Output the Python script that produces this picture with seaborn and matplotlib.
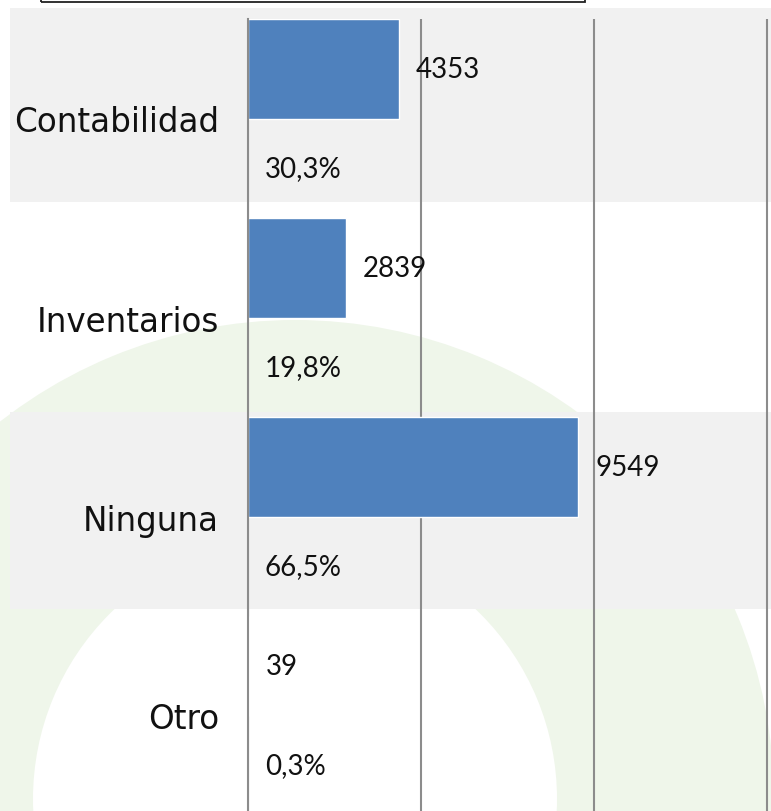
import numpy as np
import pandas as pd
import matplotlib
matplotlib.use('Agg')
import matplotlib.pyplot as plt
from matplotlib.patches import Rectangle, Wedge
import seaborn as sns

# Data
categorias = ['Contabilidad', 'Inventarios', 'Ninguna', 'Otro']
cantidades = [4353, 2839, 9549, 39]
porcentajes = [30.3, 19.8, 66.5, 0.3]

df = pd.DataFrame({
    'categoria': categorias * 2,
    'valor': cantidades + [p / 100 for p in porcentajes],
    'serie': ['Cantidad'] * len(categorias) + ['Porcentaje'] * len(categorias),
})

sns.set_style('white')
plt.rcParams['font.family'] = ['Lato', 'DejaVu Sans']

W, H = 771, 812
fig = plt.figure(figsize=(W / 100, H / 100), dpi=100)
fig.patch.set_facecolor('white')

# Page background behind the chart: faint green ring and striped table rows
ring = Wedge((2.95, 0.12), 4.79, 0, 360, width=2.17, transform=fig.dpi_scale_trans,
             facecolor='#eff6ea', edgecolor='none', zorder=-3)
fig.patches.append(ring)
for top, bottom in [(9, 203), (413, 610)]:
    band = Rectangle((10 / W, 1 - bottom / H), 1, (bottom - top) / H,
                     transform=fig.transFigure, facecolor='#f1f1f1',
                     edgecolor='none', zorder=-2)
    fig.patches.append(band)
box = Rectangle((41 / W, 1 - 3 / H), 544 / W, 0.2, transform=fig.transFigure,
                facecolor='none', edgecolor='#222222', lw=1.3, zorder=-1)
fig.patches.append(box)

ax = fig.add_axes([248 / W, -4 / H, 523 / W, 796 / H])
ax.set_facecolor('none')

blue = '#4f81bd'
sns.barplot(data=df, y='categoria', x='valor', hue='serie', orient='h',
            dodge=True, width=1.0, palette=[blue, blue], legend=False,
            saturation=1, ax=ax)

ax.set_xlim(0, 15115)
ax.set_ylim(3.5, -0.5)
ax.set_xticks([0, 5000, 10000, 15000])
ax.set_xticklabels([])
ax.xaxis.grid(True, color='#8c8c8c', lw=1.5)
ax.set_axisbelow(True)
ax.tick_params(axis='x', length=0)
ax.set_xlabel('')
ax.set_ylabel('')

for side in ['top', 'right', 'bottom']:
    ax.spines[side].set_visible(False)
ax.spines['left'].set_color('#8c8c8c')
ax.spines['left'].set_linewidth(1.5)
ax.spines['left'].set_zorder(3)

ax.set_yticks(range(len(categorias)))
ax.set_yticklabels(categorias, fontsize=23.5, color='#111111', family='DejaVu Sans')
ax.tick_params(axis='y', which='major', length=0, pad=21)
ax.set_yticks(np.arange(len(categorias)) - 0.5, minor=True)
ax.tick_params(axis='y', which='minor', length=6, width=1.1, color='#8c8c8c')

ax.bar_label(ax.containers[0], labels=[str(v) for v in cantidades],
             padding=12, fontsize=20, color='#111111')
ax.bar_label(ax.containers[1],
             labels=[f'{p:.1f}'.replace('.', ',') + '%' for p in porcentajes],
             padding=12, fontsize=20, color='#111111')

plt.savefig('out.png', dpi=100)
